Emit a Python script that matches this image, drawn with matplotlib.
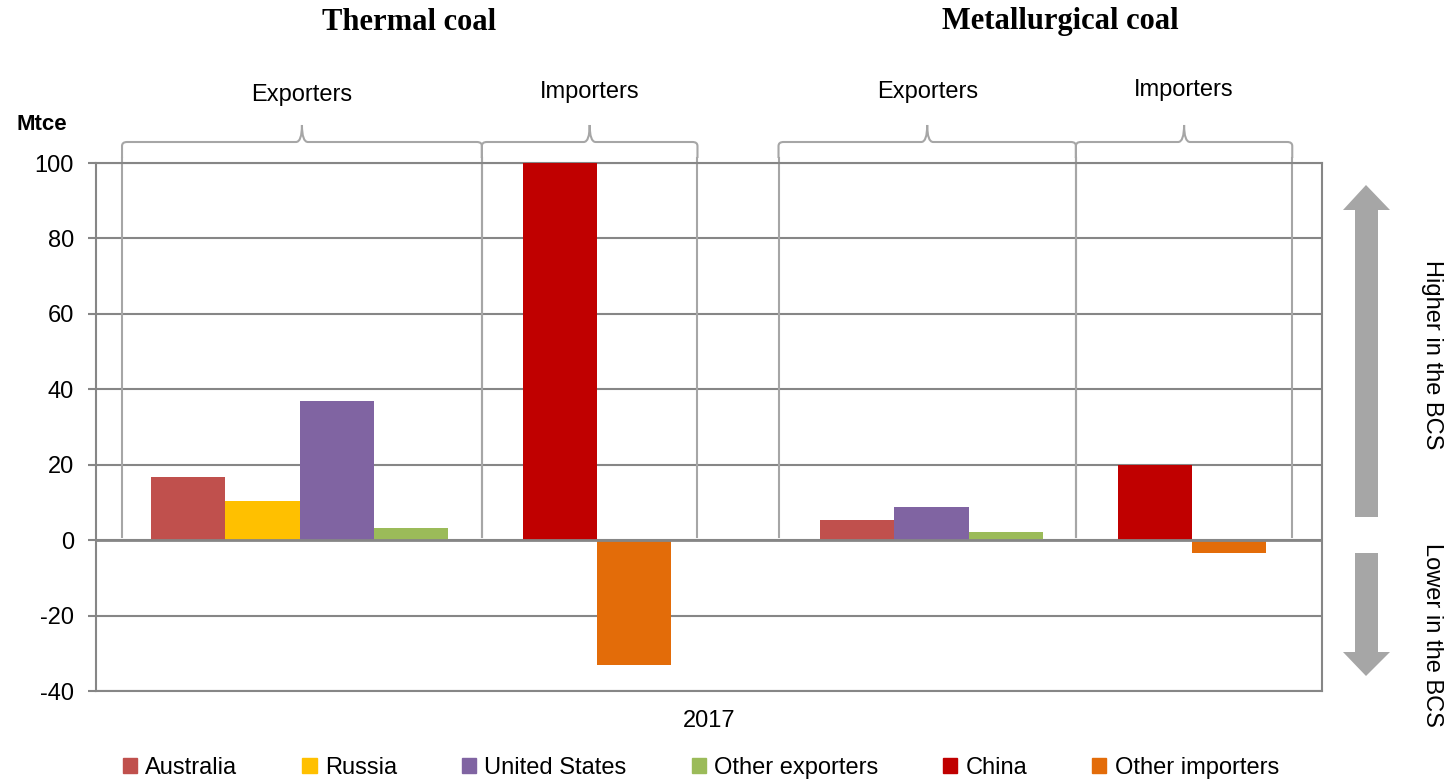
import numpy as np
import matplotlib.pyplot as plt
from matplotlib.path import Path
from matplotlib.patches import PathPatch, Polygon

plt.rcParams['font.family'] = ['Liberation Sans', 'DejaVu Sans']
plt.rcParams['axes.unicode_minus'] = False

# data (Mtce, 2017)
series = ['Australia', 'Russia', 'United States', 'Other exporters', 'China', 'Other importers']
colors = ['#C0504D', '#FFC000', '#8064A2', '#9BBB59', '#C00000', '#E36C09']
is_exporter = [True, True, True, True, False, False]
thermal = [16.8, 10.5, 36.8, 3.3, 100.0, -33.2]
metallurgical = [5.4, np.nan, 8.8, 2.2, 19.9, -3.5]
group_titles = ['Thermal coal', 'Metallurgical coal']
sub_labels = ['Exporters', 'Importers']
year = '2017'

W, H = 1447, 783
fig = plt.figure(figsize=(W / 100, H / 100), dpi=100)
ax = fig.add_axes([96 / W, 1 - 691 / H, 1226 / W, 528 / H])

def fx(px):
    return px / W

def fy(py):
    return 1 - py / H

# bar slots: exporters side by side, one empty slot, then importers
groups = [thermal, metallurgical]
group_start = [0, 9]
for g, vals in enumerate(groups):
    pos = group_start[g]
    first_imp = True
    for i, v in enumerate(vals):
        if np.isnan(v):
            continue
        if not is_exporter[i] and first_imp:
            pos += 1
            first_imp = False
        ax.bar(pos, v, width=1.0, align='edge', color=colors[i], zorder=3)
        pos += 1

xmin, xmax = -0.74, 15.75
ax.set_xlim(xmin, xmax)
ax.set_ylim(-40, 100)
ax.set_yticks(np.arange(-40, 101, 20))
ax.tick_params(axis='y', labelsize=17, length=6, width=1.5, color='#868686', pad=10)
ax.set_xticks([(xmin + xmax) / 2])
ax.set_xticklabels([year], fontsize=17)
ax.tick_params(axis='x', length=0, pad=14)
ax.grid(axis='y', color='#868686', lw=1.5, zorder=1)
for s in ax.spines.values():
    s.set_color('#868686')
    s.set_linewidth(1.5)
ax.axhline(0, color='#868686', lw=2, zorder=4)

# braces with dividers
bc = '#A6A6A6'
px = 1 / 74.5
py = 1 / 3.771
edges = [(-0.39, 4.45), (4.45, 7.35), (8.44, 12.44), (12.44, 15.35)]
label_y = [118, 118.8, 118.8, 119.4]
for k, (a, b) in enumerate(edges):
    c = (a + b) / 2
    y0, y1, yt = 100 + 5 * py, 100 + 21 * py, 100 + 38 * py
    verts = [(a, y0), (a, y1 - 4 * py), (a, y1), (a + 5 * px, y1),
             (c - 6 * px, y1), (c, y1), (c, yt),
             (c, y1), (c + 6 * px, y1),
             (b - 5 * px, y1), (b, y1), (b, y1 - 4 * py), (b, y0)]
    codes = [Path.MOVETO, Path.LINETO, Path.CURVE3, Path.CURVE3,
             Path.LINETO, Path.CURVE3, Path.CURVE3,
             Path.CURVE3, Path.CURVE3,
             Path.LINETO, Path.CURVE3, Path.CURVE3, Path.LINETO]
    ax.add_patch(PathPatch(Path(verts, codes), fill=False, ec=bc, lw=1.5,
                           clip_on=False, zorder=2))
    for xv in (a, b):
        ax.plot([xv, xv], [100 + 5 * py, 0.8], color=bc, lw=1.5, zorder=2,
                clip_on=False)
    ax.text(c, label_y[k], sub_labels[k % 2], ha='center', va='center',
            fontsize=17)

fig.text(fx(409), fy(22), group_titles[0], ha='center', va='center',
         fontsize=22, fontweight='bold', family='Liberation Serif')
fig.text(fx(1060), fy(22), group_titles[1], ha='center', va='center',
         fontsize=22, fontweight='bold', family='Liberation Serif')
fig.text(fx(16), fy(125), 'Mtce', ha='left', va='center', fontsize=16,
         fontweight='bold')

# direction arrows on the right
up = [(1366, 185), (1390, 210), (1378, 210), (1378, 517), (1355, 517),
      (1355, 210), (1343, 210)]
down = [(1355, 553), (1378, 553), (1378, 652), (1390, 652), (1366, 676),
        (1343, 652), (1355, 652)]
for pts in (up, down):
    fig.add_artist(Polygon([(fx(x), fy(y)) for x, y in pts], closed=True,
                           fc='#A6A6A6', ec='none', transform=fig.transFigure))
fig.text(fx(1432), fy(355), 'Higher in the BCS', rotation=270, ha='center',
         va='center', fontsize=17)
fig.text(fx(1432), fy(635), 'Lower in the BCS', rotation=270, ha='center',
         va='center', fontsize=17)

handles = [plt.Rectangle((0, 0), 1, 1, color=c) for c in colors]
fig.legend(handles, series, loc='center left', bbox_to_anchor=(fx(123), fy(768)),
           ncol=6, frameon=False, fontsize=17, handlelength=0.6,
           handleheight=0.6, handletextpad=0.35, columnspacing=2.75,
           borderaxespad=0, borderpad=0)

fig.savefig('out.png', dpi=100)
